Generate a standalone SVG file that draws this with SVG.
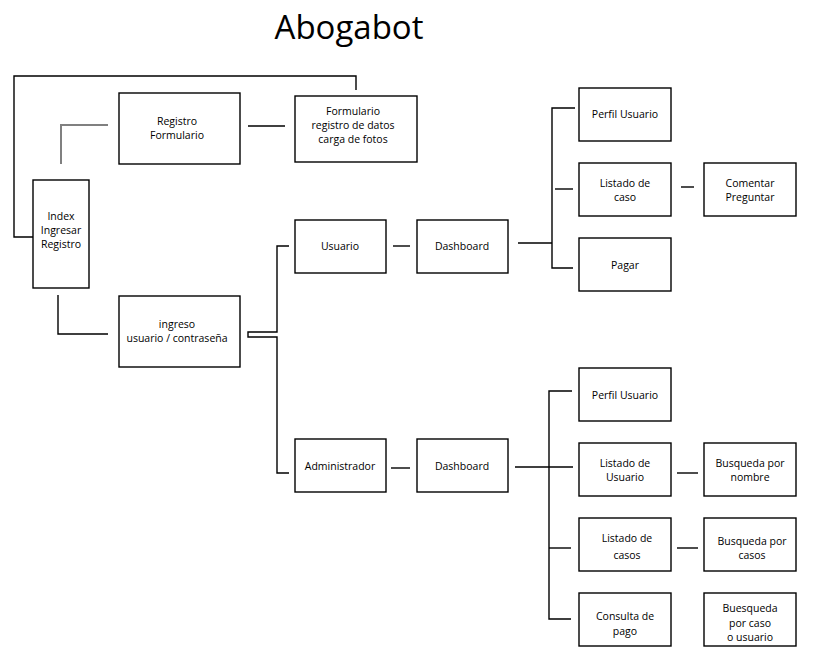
<svg xmlns="http://www.w3.org/2000/svg" width="818" height="665" viewBox="0 0 818 665">
<style>
.box{fill:#fff;stroke:#000;stroke-width:1.4}
.ln{fill:none;stroke:#000;stroke-width:1.4}
.gr{fill:none;stroke:#808080;stroke-width:2}
text{font-family:"Open Sans","Noto Sans","Liberation Sans",sans-serif;font-size:10.5px;fill:#000;text-anchor:middle}
.title{font-size:33px}
</style>
<rect width="818" height="665" fill="#fff"/>
<text class="title" x="349" y="39">Abogabot</text>
<g id="connectors">
<polyline class="ln" points="356,90 356,76 14,76 14,237 33,237"/>
<polyline class="gr" points="61,164 61,125 108,125"/>
<line class="ln" x1="248" y1="126" x2="285" y2="126"/>
<polyline class="ln" points="58,295 58,334 108,334"/>
<polyline class="ln" points="289,246 277,246 277,332 248,332 248,337 277,337 277,473 289,473"/>
<line class="ln" x1="393" y1="246" x2="410" y2="246"/>
<line class="ln" x1="391" y1="468" x2="410" y2="468"/>
<line class="ln" x1="518" y1="243" x2="552" y2="243"/>
<polyline class="ln" points="575,108 552,108 552,268 573,268"/>
<line class="ln" x1="555" y1="189" x2="573" y2="189"/>
<line class="ln" x1="681" y1="187" x2="694" y2="187"/>
<line class="ln" x1="515" y1="467" x2="573" y2="467"/>
<polyline class="ln" points="572,391 549,391 549,619 571,619"/>
<line class="ln" x1="549" y1="548" x2="571" y2="548"/>
<line class="ln" x1="677" y1="473" x2="698" y2="473"/>
<line class="ln" x1="677" y1="548" x2="698" y2="548"/>
</g>
<g id="index"><rect class="box" x="33" y="180" width="56" height="108"/><text x="61" y="220">Index</text><text x="61" y="234">Ingresar</text><text x="61" y="248">Registro</text></g>
<g id="registro"><rect class="box" x="119" y="93" width="121" height="71"/><text x="177" y="125">Registro</text><text x="177" y="139">Formulario</text></g>
<g id="formulario"><rect class="box" x="295" y="96" width="122" height="66"/><text x="353" y="115">Formulario</text><text x="353" y="129">registro de datos</text><text x="353" y="143">carga de fotos</text></g>
<g id="ingreso"><rect class="box" x="119" y="296" width="121" height="71"/><text x="177" y="328">ingreso</text><text x="177" y="342">usuario / contraseña</text></g>
<g id="usuario"><rect class="box" x="295" y="220" width="91" height="53"/><text x="340" y="250">Usuario</text></g>
<g id="dashboard1"><rect class="box" x="417" y="220" width="91" height="53"/><text x="462" y="250">Dashboard</text></g>
<g id="administrador"><rect class="box" x="295" y="439" width="91" height="53"/><text x="340" y="470">Administrador</text></g>
<g id="dashboard2"><rect class="box" x="417" y="439" width="91" height="53"/><text x="462" y="470">Dashboard</text></g>
<g id="perfil1"><rect class="box" x="579" y="88" width="92" height="53"/><text x="625" y="118">Perfil Usuario</text></g>
<g id="listadocaso"><rect class="box" x="579" y="163" width="92" height="53"/><text x="625" y="187">Listado de</text><text x="625" y="201">caso</text></g>
<g id="comentar"><rect class="box" x="704" y="163" width="92" height="53"/><text x="750" y="187">Comentar</text><text x="750" y="201">Preguntar</text></g>
<g id="pagar"><rect class="box" x="579" y="238" width="92" height="53"/><text x="625" y="269">Pagar</text></g>
<g id="perfil2"><rect class="box" x="579" y="368" width="92" height="53"/><text x="625" y="399">Perfil Usuario</text></g>
<g id="listadousuario"><rect class="box" x="579" y="443" width="92" height="53"/><text x="625" y="467">Listado de</text><text x="625" y="481">Usuario</text></g>
<g id="busquedanombre"><rect class="box" x="704" y="443" width="92" height="53"/><text x="750" y="467">Busqueda por</text><text x="750" y="481">nombre</text></g>
<g id="listadocasos"><rect class="box" x="579" y="518" width="92" height="53"/><text x="627" y="542">Listado de</text><text x="627" y="559">casos</text></g>
<g id="busquedacasos"><rect class="box" x="704" y="518" width="92" height="53"/><text x="752" y="545">Busqueda por</text><text x="752" y="559">casos</text></g>
<g id="consulta"><rect class="box" x="579" y="593" width="92" height="53"/><text x="625" y="620">Consulta de</text><text x="625" y="635">pago</text></g>
<g id="buesqueda"><rect class="box" x="704" y="593" width="92" height="53"/><text x="750" y="612">Buesqueda</text><text x="750" y="627">por caso</text><text x="750" y="641">o usuario</text></g>
</svg>
